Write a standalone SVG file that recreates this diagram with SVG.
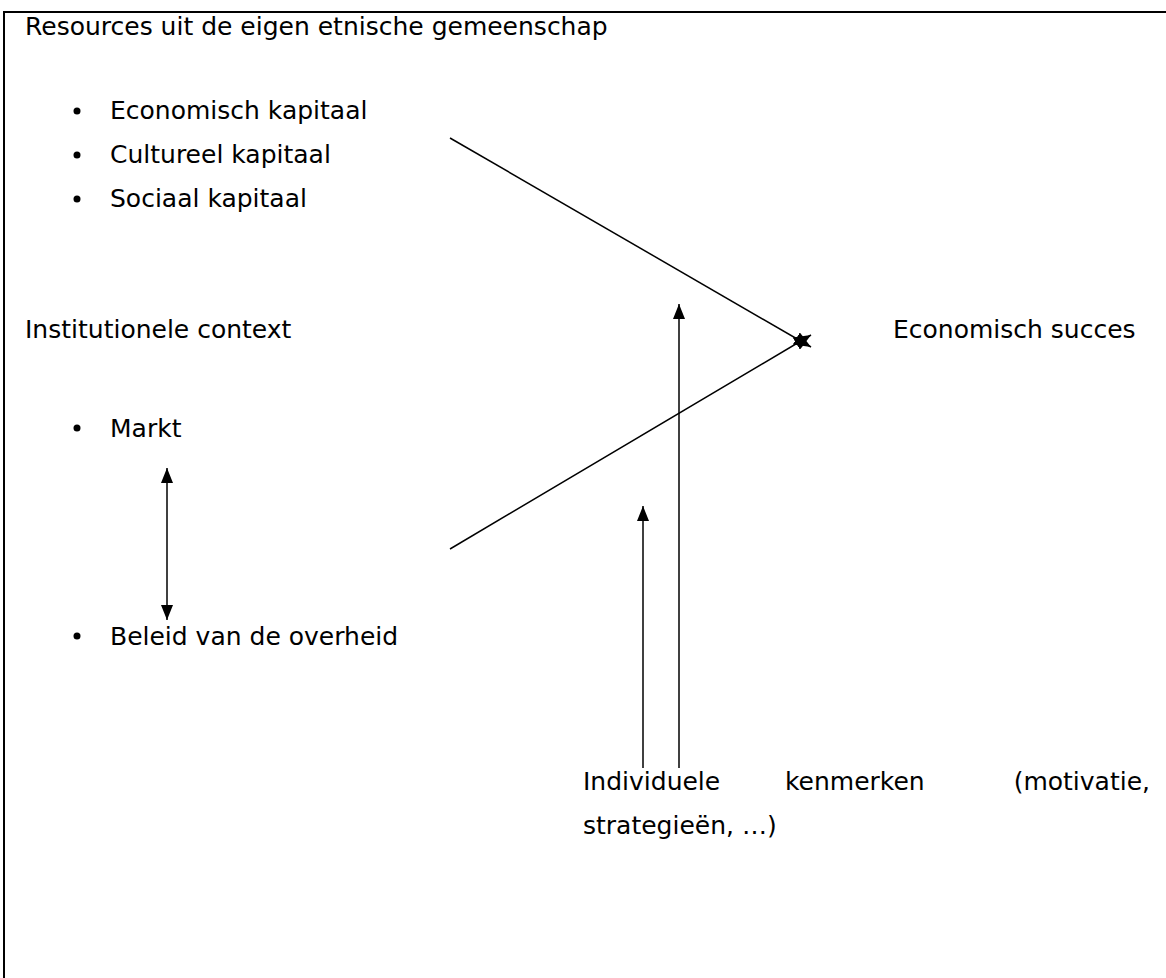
<svg xmlns="http://www.w3.org/2000/svg" width="1166" height="978" viewBox="0 0 1166 978">
<style>
text{font-family:"DejaVu Sans",Verdana,sans-serif;font-size:25px;fill:#000}
.ln{stroke:#000;stroke-width:1.5;fill:none}
.frame{stroke:#000;stroke-width:2;fill:none}
</style>
<defs>
<marker id="ahb" viewBox="0 0 15 12" refX="15" refY="6" markerWidth="15" markerHeight="12" markerUnits="userSpaceOnUse" orient="auto-start-reverse">
<path d="M0,0 L15,6 L0,12 z" fill="#000"/>
</marker>
<marker id="ahj" viewBox="0 0 17 14" refX="17" refY="7" markerWidth="17" markerHeight="14" markerUnits="userSpaceOnUse" orient="auto">
<path d="M0,0 L17,7 L0,14 z" fill="#000"/>
</marker>
</defs>
<rect width="1166" height="978" fill="#fff"/>
<path class="frame" d="M4,978 V12 H1166"/>
<g id="resources">
<text x="25" y="35">Resources uit de eigen etnische gemeenschap</text>
<circle cx="77" cy="111" r="3.5"/><text x="110" y="119">Economisch kapitaal</text>
<circle cx="77" cy="155" r="3.5"/><text x="110" y="163">Cultureel kapitaal</text>
<circle cx="77" cy="199" r="3.5"/><text x="110" y="207">Sociaal kapitaal</text>
</g>
<g id="institutioneel">
<text x="25" y="338">Institutionele context</text>
<circle cx="77" cy="428" r="3.5"/><text x="110" y="437">Markt</text>
<circle cx="77" cy="636" r="3.5"/><text x="110" y="645">Beleid van de overheid</text>
</g>
<g id="succes">
<text x="893" y="338">Economisch succes</text>
</g>
<g id="individueel">
<text x="583" y="790">Individuele</text>
<text x="785" y="790">kenmerken</text>
<text x="1150" y="790" text-anchor="end">(motivatie,</text>
<text x="583" y="834">strategieën, …)</text>
</g>
<g id="connectors">
<line class="ln" x1="450" y1="138" x2="811" y2="347" marker-end="url(#ahj)"/>
<line class="ln" x1="450" y1="549" x2="811" y2="335" marker-end="url(#ahj)"/>
<line class="ln" x1="679" y1="768" x2="679" y2="304" marker-end="url(#ahb)"/>
<line class="ln" x1="643" y1="768" x2="643" y2="506" marker-end="url(#ahb)"/>
<line class="ln" x1="167" y1="468" x2="167" y2="620" marker-start="url(#ahb)" marker-end="url(#ahb)"/>
</g>
</svg>
